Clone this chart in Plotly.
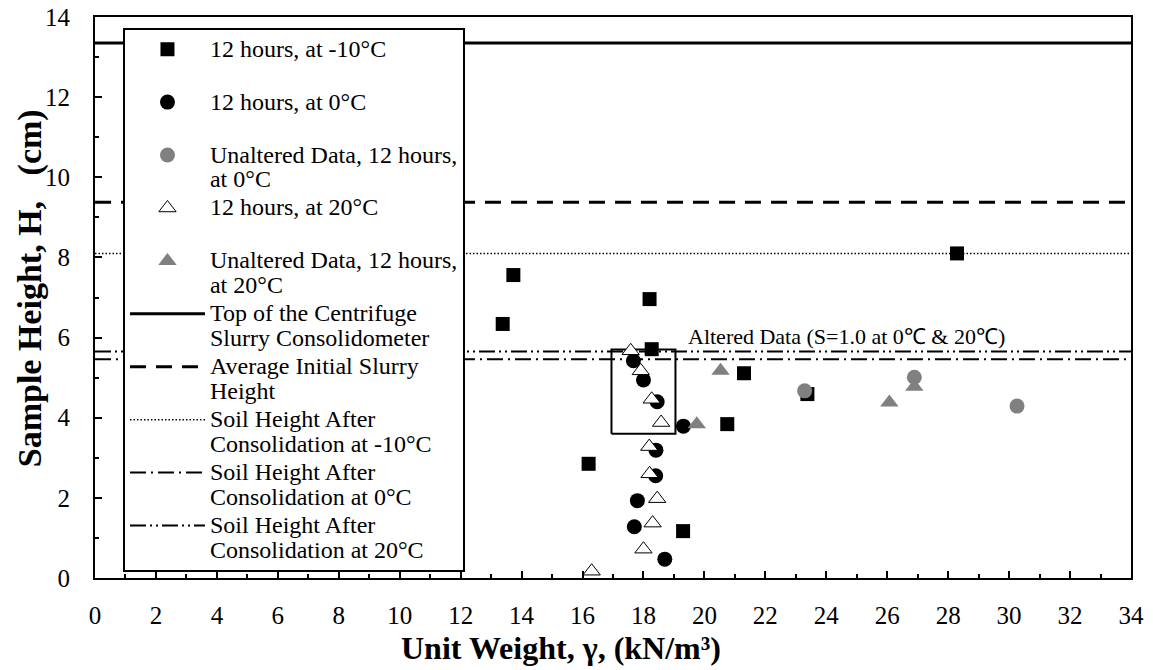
import plotly.graph_objects as go

# ---------------- data ----------------
sq_m10_x = [13.38, 13.73, 16.2, 18.2, 18.27, 19.3, 20.75, 21.3, 23.38, 28.29]
sq_m10_y = [6.34, 7.56, 2.85, 6.96, 5.71, 1.17, 3.84, 5.11, 4.59, 8.10]

c0_x = [17.67, 18.0, 18.45, 19.31, 18.41, 18.4, 17.8, 17.7, 18.7]
c0_y = [5.42, 4.94, 4.40, 3.79, 3.19, 2.55, 1.93, 1.28, 0.47]

c0u_x = [23.29, 26.89, 30.26]
c0u_y = [4.67, 5.01, 4.29]

t20_x = [17.58, 17.91, 18.27, 18.58, 18.19, 18.2, 18.45, 18.3, 18.0, 16.3]
t20_y = [5.67, 5.17, 4.46, 3.88, 3.28, 2.60, 1.98, 1.37, 0.72, 0.17]

t20u_x = [20.53, 19.75, 26.07, 26.89]
t20u_y = [5.17, 3.84, 4.38, 4.77]

x_span = [0, 34]
h_top = 13.35
h_init = 9.38
h_m10 = 8.10
h_0 = 5.46
h_20 = 5.65

box_x = [16.95, 19.05, 19.05, 16.95, 16.95]
box_y = [3.60, 3.60, 5.70, 5.70, 3.60]

note_text = "Altered Data (S=1.0 at 0℃ & 20℃)"
note_x = 19.4
note_y = 6.02

FONT = "Liberation Serif"
LFS = 24


def lab(s):
    return '<span style="font-size:%dpx">%s</span>' % (LFS, s)


fig = go.Figure()

# reference lines
lines = [
    (h_top, "Top of the Centrifuge<br>Slurry Consolidometer", dict(color="black", width=3, dash="solid")),
    (h_init, "Average Initial Slurry<br>Height", dict(color="black", width=3, dash="16px,10px")),
    (h_m10, "Soil Height After<br>Consolidation at -10°C", dict(color="black", width=1.5, dash="1.5px,2px")),
    (h_0, "Soil Height After<br>Consolidation at 0°C", dict(color="black", width=2, dash="16px,5px,2px,5px")),
    (h_20, "Soil Height After<br>Consolidation at 20°C", dict(color="black", width=2, dash="16px,4px,2px,4px,2px,4px")),
]
for i, (hv, name, ln) in enumerate(lines):
    fig.add_trace(go.Scatter(x=x_span, y=[hv, hv], mode="lines", name=lab(name),
                             line=ln, legendrank=10 + i, hoverinfo="skip"))

# highlight box
fig.add_trace(go.Scatter(x=box_x, y=box_y, mode="lines", showlegend=False,
                         line=dict(color="black", width=2), hoverinfo="skip"))

# markers
fig.add_trace(go.Scatter(x=sq_m10_x, y=sq_m10_y, mode="markers", name=lab("12 hours, at -10°C<br>\u00a0"),
                         marker=dict(symbol="square", size=14, color="black"), legendrank=1))
fig.add_trace(go.Scatter(x=c0_x, y=c0_y, mode="markers", name=lab("12 hours, at 0°C<br>\u00a0"),
                         marker=dict(symbol="circle", size=15, color="black"), legendrank=2))
fig.add_trace(go.Scatter(x=c0u_x, y=c0u_y, mode="markers", name=lab("Unaltered Data, 12 hours,<br>at 0°C"),
                         marker=dict(symbol="circle", size=15, color="#808080"), legendrank=3))
fig.add_trace(go.Scatter(x=t20_x, y=t20_y, mode="markers", name=lab("12 hours, at 20°C<br>\u00a0"),
                         marker=dict(symbol="triangle-up", size=15, color="white",
                                     line=dict(color="black", width=1)), legendrank=4))
fig.add_trace(go.Scatter(x=t20u_x, y=t20u_y, mode="markers", name=lab("Unaltered Data, 12 hours,<br>at 20°C"),
                         marker=dict(symbol="triangle-up", size=16, color="#808080"), legendrank=5))

fig.add_annotation(x=note_x, y=note_y, xref="x", yref="y", text=note_text, showarrow=False,
                   xanchor="left", yanchor="middle", font=dict(family=FONT, size=22, color="black"))

# axis titles
fig.add_annotation(x=0.45, y=-0.125, xref="paper", yref="paper", showarrow=False,
                   text="<b>Unit Weight, γ, (kN/m³)</b>", xanchor="center", yanchor="middle",
                   font=dict(family=FONT, size=32, color="black"))
fig.add_annotation(x=-0.063, y=0.516, xref="paper", yref="paper", showarrow=False, textangle=-90,
                   text="<b>Sample Height, H,&nbsp;&nbsp;&nbsp;(cm)</b>", xanchor="center", yanchor="middle",
                   font=dict(family=FONT, size=34, color="black"))

axis_common = dict(showgrid=False, zeroline=False, showline=True, linecolor="black", linewidth=2,
                   mirror=True, ticks="inside", ticklen=7, tickwidth=2, tickcolor="black",
                   automargin=False,
                   tickfont=dict(family=FONT, size=25, color="black"),
                   minor=dict(dtick=1, ticks="inside", ticklen=4, tickwidth=2, tickcolor="black"))

fig.update_layout(
    width=1153, height=670,
    margin=dict(l=95, r=22, t=17, b=92),
    paper_bgcolor="white", plot_bgcolor="white",
    font=dict(family=FONT, color="black"),
    xaxis=dict(range=[0, 34], dtick=2, ticklabelstandoff=14, **axis_common),
    yaxis=dict(range=[0, 14], dtick=2, ticklabelstandoff=18, **axis_common),
    legend=dict(x=0.027, y=0.98, xanchor="left", yanchor="top", bgcolor="white",
                bordercolor="black", borderwidth=2, font=dict(family=FONT, size=19.2, color="black"),
                valign="top", itemwidth=75, traceorder="normal"),
    showlegend=True,
)

fig.write_html("out.html")
